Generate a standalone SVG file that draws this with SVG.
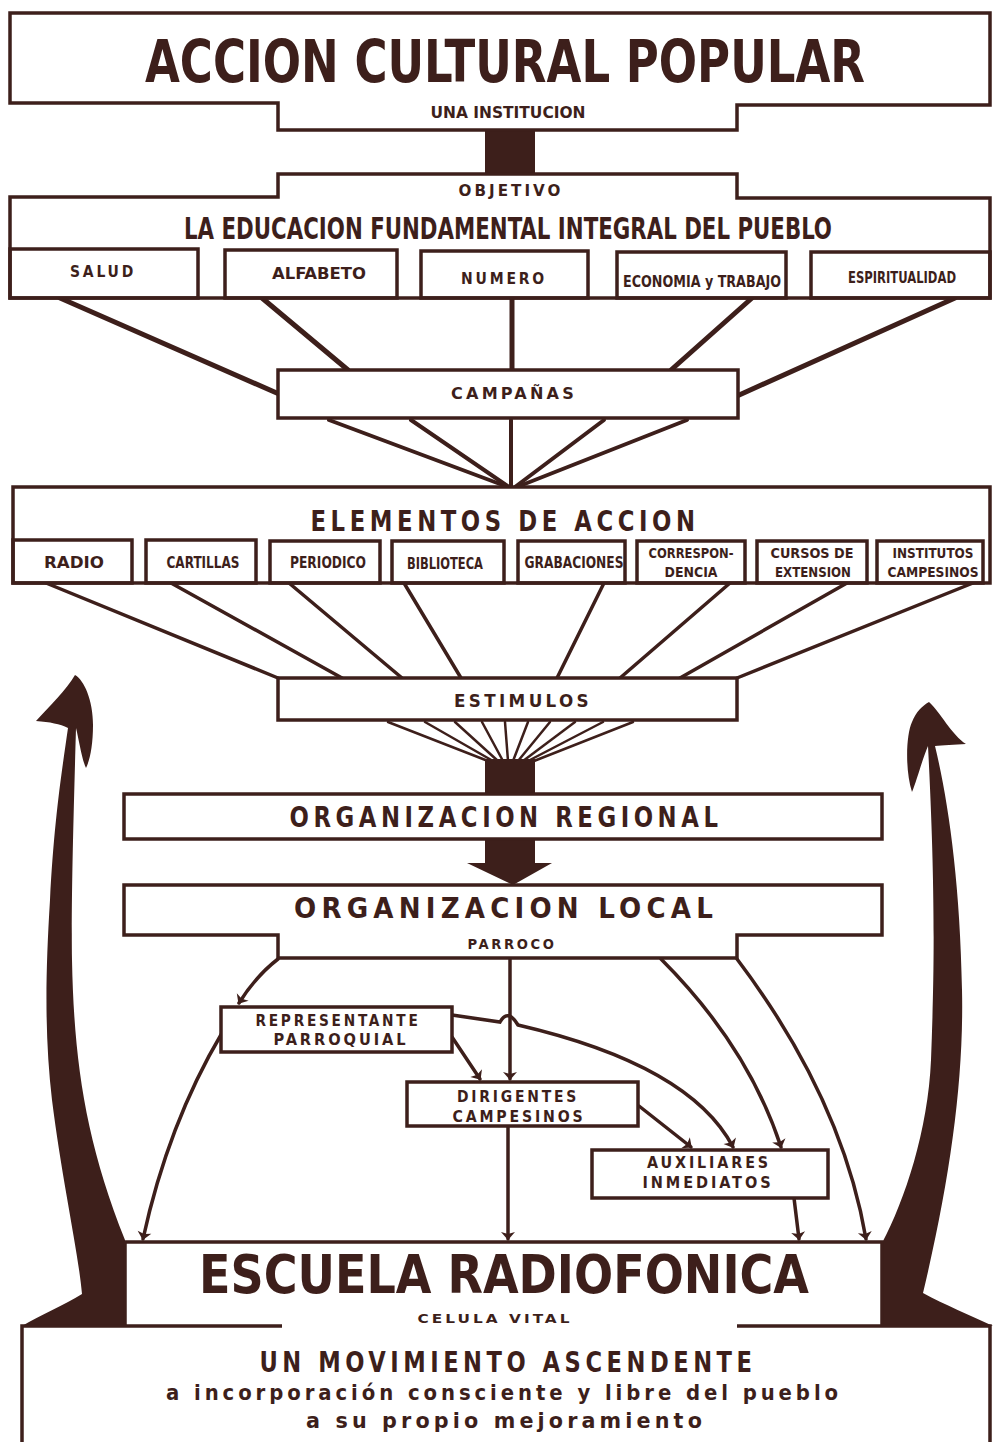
<svg xmlns="http://www.w3.org/2000/svg" width="993" height="1442" viewBox="0 0 993 1442">
<defs>
<style>
.b{fill:#fff;stroke:#3d1f1b;stroke-width:3.5;stroke-linejoin:miter}
.o{fill:none;stroke:#3d1f1b;stroke-width:3.5}
.c{fill:none;stroke:#3d1f1b;stroke-linecap:round}
.c5{stroke-width:5}
.c4{stroke-width:4}
.c3{stroke-width:3.5}
.c2{stroke-width:2.5}
.k{fill:#3d1f1b;stroke:none}
.t{font-family:"DejaVu Sans Condensed","DejaVu Sans","Liberation Sans",sans-serif;font-weight:bold;fill:#3d1f1b;text-anchor:middle}
.ls{letter-spacing:0.18em}
</style>
<marker id="ah" viewBox="-8 -8 10 16" markerWidth="10" markerHeight="16" refX="0" refY="0" orient="auto" markerUnits="userSpaceOnUse">
<path d="M1,0 L-7,-7 L-5,0 L-7,7 Z" fill="#3d1f1b"/>
</marker>
</defs>
<rect width="993" height="1442" fill="#fff"/>

<g id="connectors">
<rect class="k" x="485" y="130" width="50" height="44"/>
<line class="c c5" x1="60" y1="298" x2="279" y2="394"/>
<line class="c c5" x1="262" y1="298" x2="348" y2="370"/>
<line class="c c5" x1="512" y1="298" x2="512" y2="370"/>
<line class="c c5" x1="752" y1="298" x2="671" y2="370"/>
<line class="c c5" x1="955" y1="298" x2="737" y2="396"/>
<line class="c c4" x1="329" y1="420" x2="508" y2="487"/>
<line class="c c4" x1="411" y1="420" x2="509" y2="487"/>
<line class="c c4" x1="511" y1="420" x2="511" y2="487"/>
<line class="c c4" x1="604" y1="420" x2="515" y2="487"/>
<line class="c c4" x1="687" y1="420" x2="517" y2="487"/>
<line class="c c3" x1="46" y1="583" x2="278" y2="678"/>
<line class="c c3" x1="171" y1="583" x2="342" y2="678"/>
<line class="c c3" x1="289" y1="583" x2="402" y2="678"/>
<line class="c c3" x1="404" y1="583" x2="461" y2="678"/>
<line class="c c3" x1="604" y1="583" x2="557" y2="678"/>
<line class="c c3" x1="730" y1="583" x2="620" y2="678"/>
<line class="c c3" x1="847" y1="583" x2="680" y2="678"/>
<line class="c c3" x1="973" y1="583" x2="737" y2="678"/>
<line class="c c2" x1="388" y1="722" x2="488" y2="761"/>
<line class="c c2" x1="425" y1="722" x2="493" y2="761"/>
<line class="c c2" x1="455" y1="722" x2="498" y2="761"/>
<line class="c c2" x1="482" y1="722" x2="503" y2="761"/>
<line class="c c2" x1="505" y1="722" x2="508" y2="761"/>
<line class="c c2" x1="528" y1="722" x2="513" y2="761"/>
<line class="c c2" x1="550" y1="722" x2="518" y2="761"/>
<line class="c c2" x1="575" y1="722" x2="523" y2="761"/>
<line class="c c2" x1="603" y1="722" x2="528" y2="761"/>
<line class="c c2" x1="633" y1="722" x2="534" y2="761"/>
<rect class="k" x="485" y="759" width="50" height="35"/>
<path class="k" d="M485,838 H535 V863 H552 L513,885 L467,863 H485 Z"/>
<path class="c c3" d="M278,959 Q256,976 239,1003" marker-end="url(#ah)"/>
<path class="c c3" d="M510,959 V1079" marker-end="url(#ah)"/>
<path class="c c3" d="M661,959 Q748,1046 781,1147" marker-end="url(#ah)"/>
<path class="c c3" d="M737,959 Q842,1098 866,1239" marker-end="url(#ah)"/>
<path class="c c3" d="M222,1033 Q168,1124 143,1239" marker-end="url(#ah)"/>
<path class="c c3" d="M452,1037 L480,1079" marker-end="url(#ah)"/>
<path class="c c3" d="M452,1015 L500,1022 Q508,1008 518,1025 Q690,1065 733,1147" marker-end="url(#ah)"/>
<path class="c c3" d="M639,1106 L691,1147" marker-end="url(#ah)"/>
<path class="c c3" d="M508,1126 V1239" marker-end="url(#ah)"/>
<path class="c c3" d="M794,1198 L799,1239" marker-end="url(#ah)"/>
<path class="k" d="M75,675 C84,680 93,700 93,725 C93,745 90,760 86,768 C82,760 79,740 76,728 C74,800 71,900 72,960 C74,1060 85,1140 125,1240 L125,1326 L22,1326 C40,1315 65,1305 82,1294 C78,1250 62,1180 52,1100 C45,1040 45,980 50,900 C54,820 62,770 68,728 C60,724 50,722 36,721 C50,706 66,690 75,675 Z"/>
<path class="k" d="M929,702 C940,712 952,735 966,744 C955,745 942,745 935,746 C948,800 960,880 962,990 C964,1080 950,1180 923,1293 C945,1305 970,1315 993,1326 L882,1326 L882,1243 C905,1200 928,1130 931,1060 C934,980 936,900 928,746 C922,760 917,780 912,792 C905,770 906,735 912,722 C916,712 922,706 929,702 Z"/>
</g>

<g id="accion">
<path class="b" d="M10,13 H990 V105 H737 V130 H278 V103 H10 Z"/>
<text class="t" x="505" y="82" font-size="59" textLength="720" lengthAdjust="spacingAndGlyphs">ACCION CULTURAL POPULAR</text>
<text class="t" x="508" y="118" font-size="15" textLength="155" lengthAdjust="spacingAndGlyphs">UNA INSTITUCION</text>
</g>

<g id="objetivo">
<path class="b" d="M278,174 H737 V198 H990 V298 H10 V197 H278 Z"/>
<text class="t ls" x="511" y="196" font-size="16" textLength="105" lengthAdjust="spacingAndGlyphs">OBJETIVO</text>
<text class="t" x="508" y="239" font-size="30" textLength="648" lengthAdjust="spacingAndGlyphs">LA EDUCACION FUNDAMENTAL INTEGRAL DEL PUEBLO</text>
</g>
<g id="salud"><rect class="o" x="10" y="249" width="188" height="49"/><text class="t ls" x="103" y="277" font-size="16" textLength="66" lengthAdjust="spacingAndGlyphs">SALUD</text></g>
<g id="alfabeto"><rect class="o" x="225" y="250" width="172" height="48"/><text class="t" x="319" y="279" font-size="16" textLength="94" lengthAdjust="spacingAndGlyphs">ALFABETO</text></g>
<g id="numero"><rect class="o" x="421" y="251" width="167" height="47"/><text class="t ls" x="504" y="284" font-size="16" textLength="86" lengthAdjust="spacingAndGlyphs">NUMERO</text></g>
<g id="economia"><rect class="o" x="617" y="252" width="169" height="46"/><text class="t" x="702" y="287" font-size="16" textLength="158" lengthAdjust="spacingAndGlyphs">ECONOMIA y TRABAJO</text></g>
<g id="espiritualidad"><rect class="o" x="811" y="252" width="179" height="46"/><text class="t" x="902" y="283" font-size="16" textLength="108" lengthAdjust="spacingAndGlyphs">ESPIRITUALIDAD</text></g>

<g id="campanas">
<rect class="b" x="278" y="370" width="460" height="48"/>
<text class="t ls" x="514" y="399" font-size="16" textLength="126" lengthAdjust="spacingAndGlyphs">CAMPAÑAS</text>
</g>

<g id="elementos">
<rect class="b" x="13" y="487" width="977" height="96"/>
<text class="t ls" x="505" y="531" font-size="29" textLength="389" lengthAdjust="spacingAndGlyphs">ELEMENTOS DE ACCION</text>
</g>
<g id="radio"><rect class="o" x="13" y="540" width="119" height="43"/><text class="t" x="74" y="568" font-size="16" textLength="60" lengthAdjust="spacingAndGlyphs">RADIO</text></g>
<g id="cartillas"><rect class="o" x="146" y="540" width="110" height="43"/><text class="t" x="203" y="568" font-size="15" textLength="73" lengthAdjust="spacingAndGlyphs">CARTILLAS</text></g>
<g id="periodico"><rect class="o" x="270" y="541" width="110" height="42"/><text class="t" x="328" y="568" font-size="15" textLength="76" lengthAdjust="spacingAndGlyphs">PERIODICO</text></g>
<g id="biblioteca"><rect class="o" x="392" y="541" width="112" height="42"/><text class="t" x="445" y="569" font-size="15" textLength="76" lengthAdjust="spacingAndGlyphs">BIBLIOTECA</text></g>
<g id="grabaciones"><rect class="o" x="518" y="541" width="107" height="42"/><text class="t" x="574" y="568" font-size="15" textLength="99" lengthAdjust="spacingAndGlyphs">GRABACIONES</text></g>
<g id="correspondencia"><rect class="o" x="637" y="541" width="108" height="42"/><text class="t" x="691" y="558" font-size="14" textLength="85" lengthAdjust="spacingAndGlyphs">CORRESPON-</text><text class="t" x="691" y="577" font-size="14" textLength="53" lengthAdjust="spacingAndGlyphs">DENCIA</text></g>
<g id="cursos"><rect class="o" x="757" y="541" width="110" height="42"/><text class="t" x="812" y="558" font-size="14" textLength="83" lengthAdjust="spacingAndGlyphs">CURSOS DE</text><text class="t" x="813" y="577" font-size="14" textLength="76" lengthAdjust="spacingAndGlyphs">EXTENSION</text></g>
<g id="institutos"><rect class="o" x="877" y="541" width="106" height="42"/><text class="t" x="933" y="558" font-size="14" textLength="81" lengthAdjust="spacingAndGlyphs">INSTITUTOS</text><text class="t" x="933" y="577" font-size="14" textLength="91" lengthAdjust="spacingAndGlyphs">CAMPESINOS</text></g>

<g id="estimulos">
<rect class="b" x="278" y="678" width="459" height="42"/>
<text class="t ls" x="523" y="707" font-size="17" textLength="138" lengthAdjust="spacingAndGlyphs">ESTIMULOS</text>
</g>

<g id="regional">
<rect class="b" x="124" y="794" width="758" height="45"/>
<text class="t ls" x="506" y="827" font-size="28" textLength="433" lengthAdjust="spacingAndGlyphs">ORGANIZACION REGIONAL</text>
</g>

<g id="local">
<path class="b" d="M124,885 H882 V935 H737 V958 H278 V935 H124 Z"/>
<text class="t ls" x="506" y="918" font-size="29" textLength="424" lengthAdjust="spacingAndGlyphs">ORGANIZACION LOCAL</text>
<text class="t ls" x="512" y="949" font-size="14" textLength="89" lengthAdjust="spacingAndGlyphs">PARROCO</text>
</g>

<g id="representante">
<rect class="b" x="221" y="1007" width="231" height="45"/>
<text class="t ls" x="338" y="1026" font-size="15" textLength="165" lengthAdjust="spacingAndGlyphs">REPRESENTANTE</text>
<text class="t ls" x="341" y="1045" font-size="15" textLength="135" lengthAdjust="spacingAndGlyphs">PARROQUIAL</text>
</g>

<g id="dirigentes">
<rect class="b" x="407" y="1082" width="231" height="44"/>
<text class="t ls" x="518" y="1102" font-size="15" textLength="122" lengthAdjust="spacingAndGlyphs">DIRIGENTES</text>
<text class="t ls" x="519" y="1122" font-size="15" textLength="133" lengthAdjust="spacingAndGlyphs">CAMPESINOS</text>
</g>

<g id="auxiliares">
<rect class="b" x="592" y="1150" width="236" height="48"/>
<text class="t ls" x="709" y="1168" font-size="15" textLength="124" lengthAdjust="spacingAndGlyphs">AUXILIARES</text>
<text class="t ls" x="708" y="1188" font-size="15" textLength="131" lengthAdjust="spacingAndGlyphs">INMEDIATOS</text>
</g>

<g id="escuela">
<path class="o" d="M125,1326 V1242 H882 V1326"/>
<text class="t" x="504" y="1293" font-size="54" textLength="610" lengthAdjust="spacingAndGlyphs">ESCUELA  RADIOFONICA</text>
<text class="t ls" x="495" y="1323" font-size="13" textLength="155" lengthAdjust="spacingAndGlyphs">CELULA VITAL</text>
</g>

<g id="movimiento">
<path class="o" d="M22,1442 V1326 H282 M737,1326 H990 V1442"/>
<text class="t ls" x="508" y="1372" font-size="28" textLength="497" lengthAdjust="spacingAndGlyphs">UN MOVIMIENTO ASCENDENTE</text>
<text class="t ls" x="504" y="1400" font-size="21" textLength="676" lengthAdjust="spacingAndGlyphs">a incorporación consciente y libre del pueblo</text>
<text class="t ls" x="506" y="1428" font-size="21" textLength="400" lengthAdjust="spacingAndGlyphs">a su propio mejoramiento</text>
</g>
</svg>
